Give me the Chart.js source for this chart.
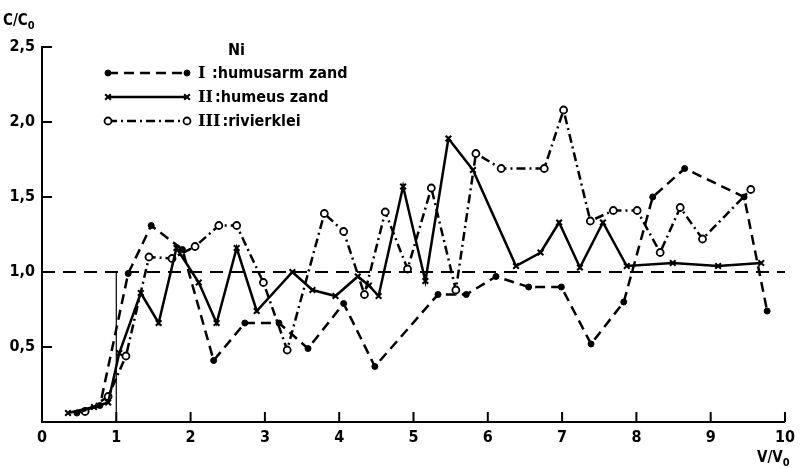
<!DOCTYPE html>
<html>
<head>
<meta charset="utf-8">
<script src="https://cdn.jsdelivr.net/npm/chart.js@4.4.0/dist/chart.umd.min.js"></script>
<style>
  html, body { margin: 0; padding: 0; background: #fff; }
  #wrap { width: 801px; height: 468px; }
</style>
</head>
<body>
<div id="wrap"><canvas id="chart" width="801" height="468"></canvas></div>
<script>
// --- values (V/V0 against C/C0) ---
const xTickLabels = ['0', '1', '2', '3', '4', '5', '6', '7', '8', '9', '10'];
const yTickLabels = ['', '0,5', '1,0', '1,5', '2,0', '2,5'];

const seriesNames = ['humusarm zand', 'humeus zand', 'rivierklei'];
const seriesNumerals = ['I', 'II', 'III'];

// I : humusarm zand
const seriesIX = [0.47, 0.78, 1.16, 1.47, 1.89, 2.31, 2.73, 3.19, 3.58, 4.06, 4.48, 5.33, 5.71, 6.11, 6.55, 6.99, 7.39, 7.83, 8.22, 8.65, 9.45, 9.76];
const seriesIY = [0.06, 0.11, 0.99, 1.31, 1.15, 0.41, 0.66, 0.66, 0.49, 0.79, 0.37, 0.85, 0.85, 0.97, 0.90, 0.90, 0.52, 0.80, 1.50, 1.69, 1.50, 0.74];

// II : humeus zand
const seriesIIX = [0.35, 0.70, 0.89, 1.04, 1.33, 1.57, 1.81, 2.11, 2.35, 2.62, 2.89, 3.37, 3.64, 3.95, 4.25, 4.40, 4.53, 4.86, 5.16, 5.47, 5.80, 6.38, 6.71, 6.96, 7.24, 7.55, 7.87, 8.49, 9.10, 9.68];
const seriesIIY = [0.06, 0.10, 0.13, 0.46, 0.86, 0.66, 1.16, 0.93, 0.66, 1.16, 0.74, 1.00, 0.88, 0.84, 0.97, 0.91, 0.84, 1.57, 0.94, 1.89, 1.68, 1.04, 1.13, 1.33, 1.03, 1.33, 1.04, 1.06, 1.04, 1.06];

// III : rivierklei
const seriesIIIX = [0.58, 0.89, 1.13, 1.44, 1.75, 2.06, 2.38, 2.62, 2.98, 3.30, 3.80, 4.06, 4.34, 4.62, 4.92, 5.24, 5.57, 5.84, 6.18, 6.76, 7.02, 7.38, 7.69, 8.01, 8.32, 8.59, 8.89, 9.54];
const seriesIIIY = [0.07, 0.17, 0.44, 1.10, 1.09, 1.17, 1.31, 1.31, 0.93, 0.48, 1.39, 1.27, 0.85, 1.40, 1.02, 1.56, 0.88, 1.79, 1.69, 1.69, 2.08, 1.34, 1.41, 1.41, 1.13, 1.43, 1.22, 1.55];

// C/C0 = 1 reference and the input step at V/V0 = 1
const refX = [0, 10];
const refY = [1, 1];
const stepX = [1, 1];
const stepY = [0, 1];

const toPoints = (xs, ys) => xs.map((x, i) => ({ x: x, y: ys[i] }));

const FONT = "'DejaVu Sans Condensed', 'Liberation Sans Narrow', 'DejaVu Sans', sans-serif";
const SERIF = "'DejaVu Serif', 'Liberation Serif', serif";

// line looks per series (also used by the hand-drawn legend)
const looks = [
    { dash: [10, 6], point: 'circle', radius: 3, fill: '#000', pbw: 1 },
    { dash: [], point: 'crossRot', radius: 4, fill: '#000', pbw: 2 },
    { dash: [9, 4, 2, 4], point: 'circle', radius: 3.5, fill: '#fff', pbw: 1.8 }
];

function seriesDataset(points, look) {
    return {
        data: points,
        borderColor: '#000',
        borderWidth: 2.5,
        borderDash: look.dash,
        pointStyle: look.point,
        pointRadius: look.radius,
        pointBackgroundColor: look.fill,
        pointBorderColor: '#000',
        pointBorderWidth: look.pbw,
        tension: 0
    };
}

// inward ticks, axis titles and the legend block
const decor = {
    id: 'decor',
    afterDraw(chart) {
        const ctx = chart.ctx;
        const xs = chart.scales.x, ys = chart.scales.y;
        const x0 = xs.getPixelForValue(0), y0 = ys.getPixelForValue(0);
        ctx.save();
        ctx.strokeStyle = '#000';
        ctx.lineWidth = 2;
        ctx.setLineDash([]);
        ctx.beginPath();
        for (let v = 1; v <= 10; v++) {
            const px = xs.getPixelForValue(v);
            ctx.moveTo(px, y0);
            ctx.lineTo(px, y0 - 10);
        }
        for (let v = 0.5; v <= 2.5; v += 0.5) {
            const py = ys.getPixelForValue(v);
            ctx.moveTo(x0, py);
            ctx.lineTo(x0 + 10, py);
        }
        ctx.stroke();

        // axis titles
        ctx.fillStyle = '#000';
        ctx.textBaseline = 'alphabetic';
        ctx.textAlign = 'left';
        ctx.font = 'bold 15px ' + FONT;
        ctx.fillText('C/C', 3, 25);
        let w = ctx.measureText('C/C').width;
        ctx.font = 'bold 11px ' + FONT;
        ctx.fillText('0', 3 + w, 29);
        ctx.font = 'bold 15px ' + FONT;
        ctx.fillText('V/V', 757, 462);
        w = ctx.measureText('V/V').width;
        ctx.font = 'bold 11px ' + FONT;
        ctx.fillText('0', 757 + w, 466);

        // legend
        ctx.font = 'bold 16px ' + FONT;
        ctx.fillText('Ni', 228, 55);
        const rowsY = [73, 97, 121];
        const lx0 = 108, lx1 = 187;
        looks.forEach((lk, i) => {
            const y = rowsY[i];
            ctx.lineWidth = 2.5;
            ctx.setLineDash(lk.dash);
            ctx.beginPath();
            ctx.moveTo(lx0, y);
            ctx.lineTo(lx1, y);
            ctx.stroke();
            ctx.setLineDash([]);
            [lx0, lx1].forEach(px => {
                ctx.fillStyle = lk.fill;
                ctx.lineWidth = lk.pbw;
                if (lk.point === 'circle') {
                    ctx.beginPath();
                    ctx.arc(px, y, lk.radius, 0, Math.PI * 2);
                    ctx.fill();
                    ctx.stroke();
                } else {
                    Chart.helpers.drawPoint(ctx, {
                        pointStyle: lk.point, radius: lk.radius, borderWidth: lk.pbw
                    }, px, y);
                }
            });
            ctx.fillStyle = '#000';
            ctx.font = 'bold 16px ' + SERIF;
            ctx.textBaseline = 'middle';
            ctx.textAlign = 'left';
            ctx.fillText(seriesNumerals[i], 198, y + 1);
            const nw = ctx.measureText(seriesNumerals[i]).width;
            ctx.font = 'bold 16px ' + FONT;
            ctx.fillText(':' + seriesNames[i], Math.max(212, 198 + nw + 2), y + 1);
        });
        ctx.restore();
    }
};

const ctx = document.getElementById('chart').getContext('2d');
new Chart(ctx, {
    type: 'line',
    data: {
        datasets: [
            {
                data: toPoints(refX, refY),
                borderColor: '#000', borderWidth: 2, borderDash: [13, 8],
                pointRadius: 0
            },
            {
                data: toPoints(stepX, stepY),
                borderColor: '#000', borderWidth: 1.2,
                pointRadius: 0
            },
            seriesDataset(toPoints(seriesIX, seriesIY), looks[0]),
            seriesDataset(toPoints(seriesIIX, seriesIIY), looks[1]),
            seriesDataset(toPoints(seriesIIIX, seriesIIIY), looks[2])
        ]
    },
    options: {
        responsive: false,
        animation: false,
        devicePixelRatio: 1,
        layout: { padding: { top: 47, right: 9, left: 0, bottom: 0 } },
        plugins: { legend: { display: false }, tooltip: { enabled: false } },
        scales: {
            x: {
                type: 'linear', min: 0, max: 10,
                afterFit: s => { s.height = 46; },
                grid: { display: false, drawTicks: false },
                border: { display: true, color: '#000', width: 2 },
                ticks: {
                    stepSize: 1, padding: 6, color: '#000',
                    font: { family: FONT, size: 16, weight: 'bold' },
                    maxRotation: 0, autoSkip: false,
                    callback: (v, i) => xTickLabels[i]
                }
            },
            y: {
                type: 'linear', min: 0, max: 2.5,
                afterFit: s => { s.width = 42; },
                grid: { display: false, drawTicks: false },
                border: { display: true, color: '#000', width: 2 },
                ticks: {
                    stepSize: 0.5, padding: 7, color: '#000',
                    font: { family: FONT, size: 16, weight: 'bold' },
                    autoSkip: false,
                    callback: (v, i) => yTickLabels[i]
                }
            }
        }
    },
    plugins: [decor]
});
</script>
</body>
</html>
